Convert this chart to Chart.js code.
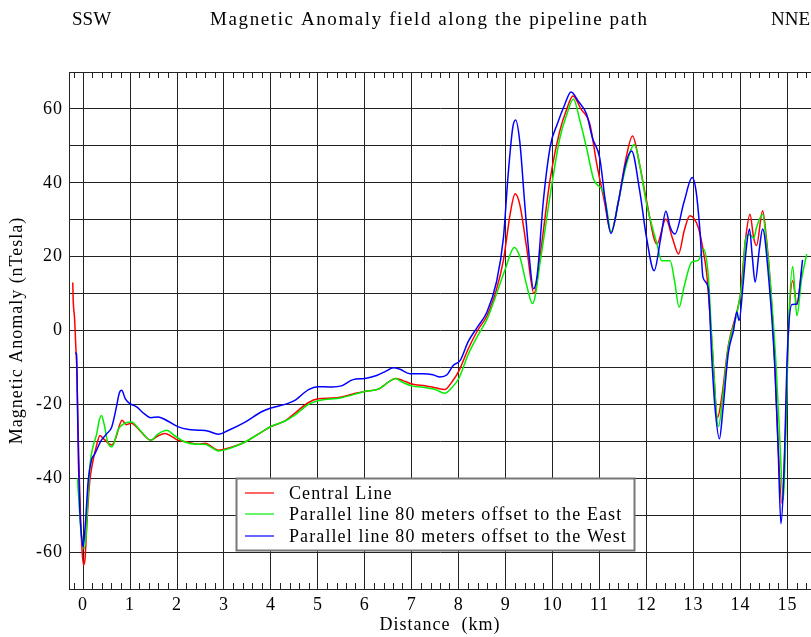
<!DOCTYPE html>
<html>
<head>
<meta charset="utf-8">
<script src="https://cdn.jsdelivr.net/npm/chart.js@4.4.1/dist/chart.umd.min.js"></script>
<style>
  html, body { margin: 0; padding: 0; background: #fff; }
  #wrap { width: 811px; height: 637px; }
</style>
</head>
<body>
<div id="wrap"><canvas id="magChart" width="811" height="637"></canvas></div>
<script>
// distance along the pipeline (km) and anomaly (nT)
const centralKm = [-0.22,-0.21,-0.18,-0.16,-0.13,-0.11,-0.08,-0.05,-0.02,0.01,0.04,0.07,0.1,0.14,0.2,0.27,0.36,0.45,0.61,0.7,0.78,0.83,0.92,1.03,1.2,1.44,1.6,1.74,1.9,2.02,2.25,2.45,2.6,2.75,2.88,3.1,3.45,3.8,4.0,4.3,4.5,4.8,5.0,5.3,5.5,5.8,6.0,6.3,6.5,6.65,6.8,7.0,7.3,7.5,7.7,7.85,8.0,8.2,8.4,8.6,8.8,8.95,9.1,9.2,9.3,9.45,9.6,9.75,9.94,10.15,10.3,10.43,10.6,10.79,10.94,11.1,11.24,11.4,11.55,11.7,11.85,12.0,12.22,12.41,12.55,12.68,12.8,12.92,13.1,13.2,13.28,13.4,13.51,13.6,13.74,13.92,14.0,14.1,14.2,14.28,14.34,14.47,14.55,14.63,14.73,14.8,14.88,14.95,15.02,15.11,15.2,15.3];
const centralNT = [13,8,3,-3,-12,-25,-40,-52,-60,-63.5,-62,-55,-48,-41,-36,-32,-28.4,-29.5,-31,-29,-25.5,-24.3,-25.5,-25.1,-27,-29.7,-28.5,-27.9,-28.8,-29.7,-30.3,-30.8,-30.5,-31.6,-32.4,-31.8,-30.2,-27.5,-26,-24.5,-22.5,-19.5,-18.5,-18.3,-18,-17,-16.5,-15.8,-14,-13,-13.5,-14.5,-15,-15.5,-16,-14,-11,-5,0,4,11,19,32,37,34,22,10,22,40.5,54,60,63.5,60,55.9,45,35,26.6,35,46,52.7,45,35,23.4,30.2,25,20.7,27,31.1,27.9,22,15.3,-5,-23.6,-18,-4,5,10,24,31.5,25,23,32.4,25,13.5,-9,-31,-46.8,-30,0,13.5,7,16];

const eastKm = [-0.12,-0.08,-0.04,0.02,0.06,0.1,0.15,0.22,0.29,0.34,0.39,0.45,0.52,0.6,0.66,0.74,0.82,0.92,1.03,1.2,1.44,1.6,1.78,1.95,2.17,2.4,2.59,2.75,2.88,3.1,3.45,3.8,4.0,4.3,4.5,4.8,5.0,5.5,6.0,6.3,6.5,6.65,6.8,7.0,7.3,7.5,7.7,7.85,8.0,8.2,8.4,8.6,8.75,9.0,9.18,9.3,9.45,9.57,9.75,9.95,10.15,10.3,10.44,10.58,10.72,10.87,10.94,11.08,11.15,11.24,11.4,11.55,11.74,11.85,12.0,12.22,12.32,12.5,12.6,12.69,12.8,12.96,13.1,13.21,13.31,13.4,13.53,13.62,13.74,13.92,14.05,14.1,14.2,14.28,14.34,14.47,14.55,14.63,14.75,14.83,14.91,14.97,15.02,15.11,15.2,15.3,15.41];
const eastNT = [-40,-48,-55,-59,-56,-46,-36,-31,-28,-24.5,-23,-25.5,-30,-31.5,-30.5,-27,-25.7,-25,-24.8,-26.8,-29.7,-28,-27,-28.5,-30.2,-30.8,-30.8,-31.8,-32.6,-32,-30.2,-27.5,-26,-24.5,-23,-20,-19,-18.2,-16.5,-15.8,-14,-13,-14,-15,-15.5,-16,-17,-15.5,-13,-6.5,-1.5,3,8,17,22.5,20,12,7.3,20,37,52,58.5,62.7,56.8,49.5,41,39.6,37.4,33,26.6,35,44,50.4,45,34.2,23.4,18.9,18.9,13,6.3,12,18.5,19,22.1,15.3,-5,-26,-18,-4.5,4.5,15,24.3,26,25,27.9,31.5,24,13.5,-8,-28,-46,-25,0,17.3,4,14,20.7];

const westKm = [-0.17,-0.14,-0.12,-0.1,-0.07,-0.03,0.0,0.05,0.11,0.18,0.25,0.39,0.5,0.61,0.71,0.77,0.82,0.9,1.0,1.14,1.3,1.44,1.6,1.8,2.03,2.25,2.45,2.65,2.88,3.1,3.45,3.8,4.0,4.3,4.5,4.8,5.0,5.3,5.5,5.75,6.0,6.25,6.45,6.6,6.75,6.96,7.24,7.45,7.6,7.75,7.88,8.03,8.2,8.4,8.6,8.8,8.95,9.05,9.15,9.21,9.3,9.4,9.5,9.59,9.67,9.8,9.95,10.1,10.25,10.39,10.55,10.72,10.85,11.0,11.12,11.24,11.4,11.55,11.68,11.85,12.0,12.16,12.3,12.41,12.5,12.6,12.8,12.97,13.05,13.14,13.2,13.31,13.39,13.45,13.55,13.62,13.74,13.85,13.92,13.97,14.05,14.12,14.19,14.25,14.31,14.4,14.47,14.6,14.73,14.8,14.86,14.92,15.0,15.09,15.2,15.32];
const westNT = [-6,-6.3,-20,-35,-48.6,-56,-58.6,-52,-40.5,-35,-33.4,-29.7,-28,-26.1,-20.7,-17,-16.2,-18.5,-19.8,-20.7,-22.5,-23.6,-23.4,-24.5,-26.1,-26.8,-27,-27.2,-28.1,-27,-24.8,-22,-21,-20,-19,-16,-15.2,-15.3,-15,-13.3,-13,-12.2,-11,-10.1,-10.5,-11.7,-11.7,-12,-12.6,-12,-9.5,-8.1,-3,1,5,13,25,42,55,57,51,35,20,11.3,15,35,50,56,61,64.6,62,58.6,52,46.8,35,26.3,35,45,48.6,38,25,16.2,25,32.3,28,26.1,35,41.4,38,26.2,14.4,11.7,-8,-20,-29.3,-22,-6,0,5,2.7,12,22,27.5,20,13.1,22,27.5,14,-10,-32,-52.3,-40,-5,7,7.2,19.1];

const seriesLabels = ['Central Line', 'Parallel line 80 meters offset to the East', 'Parallel line 80 meters offset to the West'];
const seriesColors = ['#ff0000', '#00ee00', '#0000ff'];
const kmTicks = [0,1,2,3,4,5,6,7,8,9,10,11,12,13,14,15];

const serif = '"Liberation Serif", "DejaVu Serif", serif';

function toPoints(xs, ys) {
  return xs.map((x, i) => ({ x: x, y: ys[i] }));
}

// header texts, top frame line, minor ticks and the boxed legend
const extras = {
  id: 'extras',
  beforeDraw(chart) {
    // the reference lettering runs a little wider than Liberation Serif
    chart.ctx.letterSpacing = '1px';
  },
  afterDraw(chart) {
    const ctx = chart.ctx;
    const area = chart.chartArea;
    const xs = chart.scales.x;
    ctx.save();

    ctx.fillStyle = '#000';
    ctx.font = '19px ' + serif;
    ctx.textBaseline = 'alphabetic';
    ctx.textAlign = 'left';
    ctx.letterSpacing = '0px';
    ctx.fillText('SSW', 72, 25);
    ctx.textAlign = 'right';
    ctx.fillText('NNE', 810, 25);
    ctx.textAlign = 'left';
    ctx.letterSpacing = '1.6px';
    ctx.fillText('Magnetic Anomaly field along the pipeline path', 210, 25);

    ctx.strokeStyle = '#222';
    ctx.lineWidth = 1;
    ctx.beginPath();
    ctx.moveTo(area.left, area.top + 0.5);
    ctx.lineTo(area.right, area.top + 0.5);
    for (let k = -1; k <= 77; k++) {
      const v = k * 0.2;
      if (k % 5 === 0) continue;
      const px = Math.round(xs.getPixelForValue(v)) + 0.5;
      if (px < area.left || px > area.right) continue;
      ctx.moveTo(px, area.top);
      ctx.lineTo(px, area.top + 6);
      ctx.moveTo(px, area.bottom);
      ctx.lineTo(px, area.bottom - 6);
    }
    ctx.stroke();

    // legend box
    const bx = 236.5, by = 478.5, bw = 398, bh = 72;
    ctx.fillStyle = '#fff';
    ctx.fillRect(bx, by, bw, bh);
    ctx.strokeStyle = '#777';
    ctx.lineWidth = 2;
    ctx.strokeRect(bx, by, bw, bh);
    ctx.font = '18px ' + serif;
    ctx.letterSpacing = '1.1px';
    ctx.textAlign = 'left';
    ctx.textBaseline = 'middle';
    const rows = [493, 514, 536];
    chart.data.datasets.forEach((ds, i) => {
      ctx.strokeStyle = ds.borderColor;
      ctx.lineWidth = 1.2;
      ctx.beginPath();
      ctx.moveTo(245, rows[i]);
      ctx.lineTo(274, rows[i]);
      ctx.stroke();
      ctx.fillStyle = '#000';
      ctx.fillText(ds.label, 289, rows[i] + 1);
    });
    ctx.restore();
  }
};

const ctx = document.getElementById('magChart').getContext('2d');
const myChart = new Chart(ctx, {
  type: 'line',
  data: {
    datasets: [
      { label: seriesLabels[0], data: toPoints(centralKm, centralNT), borderColor: seriesColors[0], order: 3 },
      { label: seriesLabels[1], data: toPoints(eastKm, eastNT), borderColor: seriesColors[1], order: 2 },
      { label: seriesLabels[2], data: toPoints(westKm, westNT), borderColor: seriesColors[2], order: 1 }
    ]
  },
  options: {
    responsive: false,
    animation: false,
    layout: { padding: { top: 72, right: 0, left: 0, bottom: 0 } },
    elements: {
      line: { borderWidth: 1.5, cubicInterpolationMode: 'monotone', fill: false },
      point: { radius: 0 }
    },
    plugins: {
      legend: { display: false },
      title: { display: false },
      tooltip: { enabled: false }
    },
    scales: {
      x: {
        type: 'linear',
        min: -0.3,
        max: 15.5,
        afterBuildTicks: (scale) => {
          scale.ticks = kmTicks.map(v => ({ value: v }));
        },
        afterFit: (scale) => { scale.height = 48; },
        ticks: { color: '#000', font: { family: serif, size: 18 }, padding: 5, maxRotation: 0, autoSkip: false },
        grid: { color: '#222', lineWidth: 1, drawTicks: false },
        border: { color: '#222', width: 1 },
        title: { display: true, text: 'Distance  (km)', color: '#000', font: { family: serif, size: 18 }, padding: { top: 0, bottom: 1 } }
      },
      y: {
        min: -70,
        max: 70,
        afterFit: (scale) => { scale.width = 69; },
        ticks: {
          stepSize: 10,
          color: '#000',
          font: { family: serif, size: 18 },
          padding: 6,
          callback: (v) => (v % 20 === 0 ? v : '')
        },
        grid: { color: '#222', lineWidth: 1, drawTicks: false },
        border: { color: '#222', width: 1 },
        title: { display: true, text: 'Magnetic Anomaly (nTesla)', color: '#000', font: { family: serif, size: 18 }, padding: { top: 6, bottom: 0 } }
      }
    }
  },
  plugins: [extras]
});
</script>
</body>
</html>
